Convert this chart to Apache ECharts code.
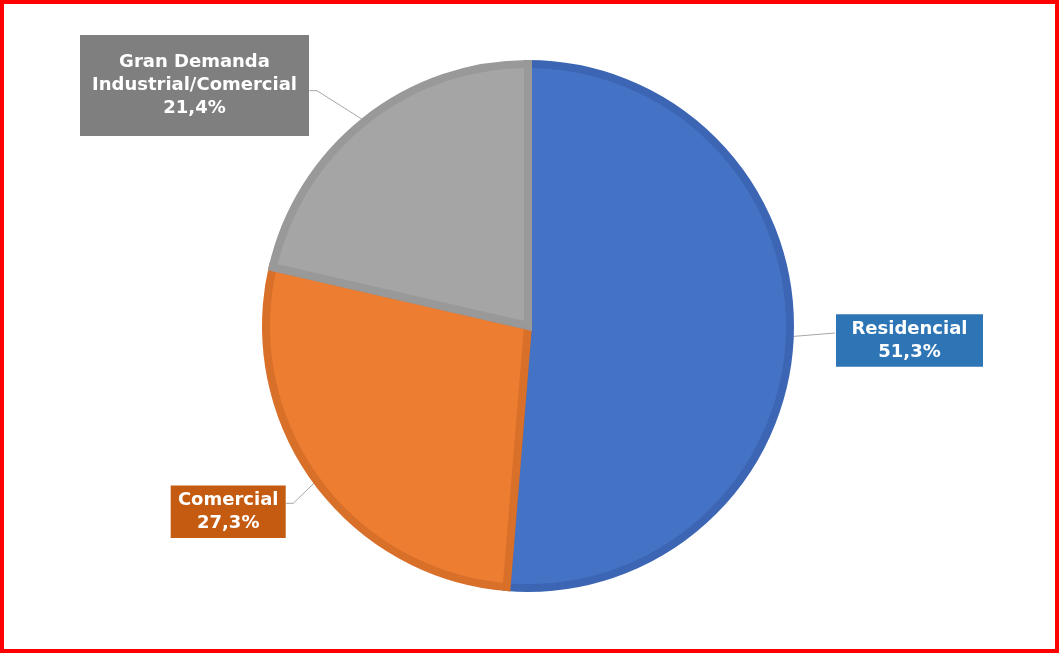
<!DOCTYPE html>
<html>
<head>
<meta charset="utf-8">
<script src="https://cdn.jsdelivr.net/npm/echarts@6/dist/echarts.min.js"></script>
<style>
html, body { margin: 0; padding: 0; background: #fff; }
#wrap { position: relative; width: 1059px; height: 653px; }
#chart { position: absolute; left: 0; top: 0; width: 1059px; height: 653px; }
#frame { position: absolute; left: 0; top: 0; width: 1059px; height: 653px; box-sizing: border-box; border: 4px solid #ff0000; pointer-events: none; }
</style>
</head>
<body>
<div id="wrap"><div id="chart"></div><div id="frame"></div></div>
<script>
// Data
var categories = ['Residencial', 'Comercial', 'Gran Demanda\nIndustrial/Comercial'];
var values = [51.3, 27.3, 21.4];

// Styles
var fillColors = ['#4472C4', '#ED7D31', '#A5A5A5'];
var edgeColors = ['#3C66B4', '#D9702A', '#999999'];
var boxColors = ['#2E75B6', '#C55A11', '#7F7F7F'];
var boxWidths = [147, 115, 229];
var boxPadV = [3, 3, 15.5];
// label box centers and leader-line bends (layout only)
var labelPlace = [
  { x: 909.5, y: 340.5, line: [[835, 333]] },
  { x: 228.2, y: 511.7, line: [[293.3, 503.3], [285.7, 503.3]] },
  { x: 194.5, y: 85.5, line: [[317, 90.7], [309, 90.7]] }
];

var data = categories.map(function (c, i) {
  return {
    name: c,
    value: values[i],
    itemStyle: { color: fillColors[i], borderColor: edgeColors[i] },
    label: {
      backgroundColor: boxColors[i],
      width: boxWidths[i],
      padding: [boxPadV[i], 0],
      borderColor: 'rgba(255,255,255,0.25)',
      borderWidth: 1
    }
  };
});

var chart = echarts.init(document.getElementById('chart'), null, { renderer: 'canvas' });
chart.setOption({
  animation: false,
  series: [{
    type: 'pie',
    center: [528, 326],
    radius: 262,
    startAngle: 90,
    clockwise: true,
    avoidLabelOverlap: false,
    itemStyle: { borderWidth: 8, borderJoin: 'miter' },
    emphasis: { disabled: true },
    label: {
      show: true,
      position: 'outside',
      color: '#ffffff',
      fontFamily: 'DejaVu Sans',
      fontWeight: 'bold',
      fontSize: 18,
      lineHeight: 23.3,
      align: 'center',
      formatter: function (p) {
        return p.name + '\n' + p.value.toFixed(1).replace('.', ',') + '%';
      }
    },
    labelLine: {
      show: true,
      lineStyle: { color: '#A6A6A6', width: 1 }
    },
    labelLayout: function (params) {
      var pl = labelPlace[params.dataIndex];
      var p0 = params.labelLinePoints ? params.labelLinePoints[0] : null;
      var res = { x: pl.x, y: pl.y, align: 'center', verticalAlign: 'middle' };
      if (p0) res.labelLinePoints = [p0].concat(pl.line);
      return res;
    },
    data: data
  }]
});
</script>
</body>
</html>
